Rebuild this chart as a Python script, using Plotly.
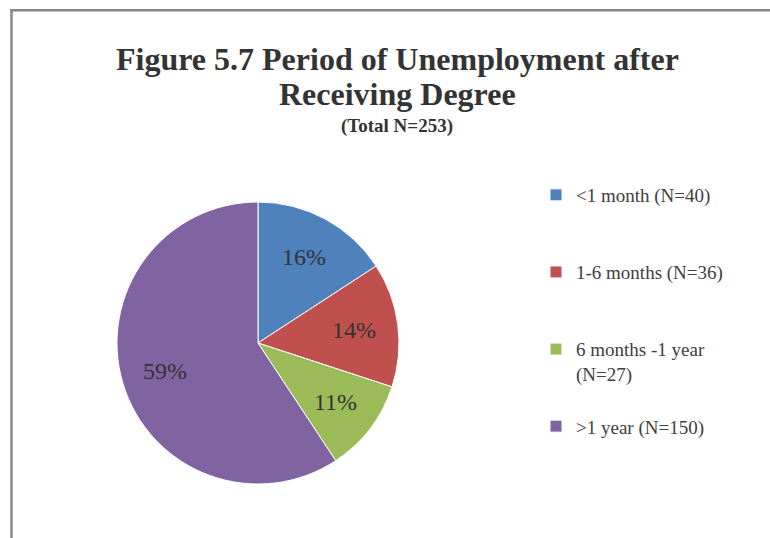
import math
import plotly.graph_objects as go

# ---- data ----
categories = ["<1 month (N=40)", "1-6 months (N=36)", "6 months -1 year<br>(N=27)", ">1 year (N=150)"]
counts = [40, 36, 27, 150]
colors = ["#4F81BD", "#C0504D", "#9BBB59", "#8064A2"]
title_line1 = "Figure 5.7 Period of Unemployment after"
title_line2 = "Receiving Degree"
subtitle = "(Total N=253)"

W, H = 770, 538
FONT = "Liberation Serif, Times New Roman, serif"

# pie geometry (pixels)
cx, cy, R = 258, 343, 141

def px_x(x):
    return x / W

def px_y(y):
    return 1 - y / H

# legend labels padded so each entry takes three lines
legend_labels = []
for c in categories:
    n = c.count("<br>") + 1
    legend_labels.append(c + "<br> " * (3 - n))

fig = go.Figure()
fig.add_trace(go.Pie(
    labels=legend_labels,
    values=counts,
    sort=False,
    direction="clockwise",
    rotation=0,
    marker=dict(colors=colors, line=dict(color="white", width=1)),
    textinfo="none",
    hoverinfo="skip",
    domain=dict(x=[px_x(cx - R), px_x(cx + R)], y=[px_y(cy + R), px_y(cy - R)]),
))

annotations = []
# percentage labels placed along each slice's mid angle
total = sum(counts)
cum = 0
for v in counts:
    mid = (cum + v / 2) / total
    cum += v
    ang = mid * 2 * math.pi
    r = 0.69 * R
    lx = cx + r * math.sin(ang)
    ly = cy - r * math.cos(ang)
    annotations.append(dict(
        x=px_x(lx), y=px_y(ly), xref="paper", yref="paper",
        text=f"{round(100 * v / total)}%", showarrow=False,
        xanchor="center", yanchor="middle",
        font=dict(family=FONT, size=24, color="#333333"),
    ))

# title lines
annotations.append(dict(x=px_x(397), y=px_y(59.5), xref="paper", yref="paper",
                        text=f"<b>{title_line1}</b>", showarrow=False,
                        xanchor="center", yanchor="middle",
                        font=dict(family=FONT, size=32, color="#333333")))
annotations.append(dict(x=px_x(397), y=px_y(94.5), xref="paper", yref="paper",
                        text=f"<b>{title_line2}</b>", showarrow=False,
                        xanchor="center", yanchor="middle",
                        font=dict(family=FONT, size=32, color="#333333")))
annotations.append(dict(x=px_x(397), y=px_y(126.5), xref="paper", yref="paper",
                        text=f"<b>{subtitle}</b>", showarrow=False,
                        xanchor="center", yanchor="middle",
                        font=dict(family=FONT, size=19, color="#333333")))

shapes = [
    dict(type="line", xref="paper", yref="paper",
         x0=px_x(11.5), x1=px_x(11.5), y0=px_y(9), y1=px_y(540),
         line=dict(color="#888888", width=2.5)),
    dict(type="line", xref="paper", yref="paper",
         x0=px_x(10.3), x1=px_x(772), y0=px_y(10.3), y1=px_y(10.3),
         line=dict(color="#888888", width=2.5)),
]

fig.update_layout(
    width=W, height=H,
    margin=dict(l=0, r=0, t=0, b=0),
    paper_bgcolor="white",
    plot_bgcolor="white",
    showlegend=True,
    legend=dict(
        x=px_x(536), y=px_y(176), xanchor="left", yanchor="top",
        valign="top",
        font=dict(family=FONT, size=19, color="#404040"),
        bgcolor="rgba(0,0,0,0)",
        traceorder="normal",
    ),
    annotations=annotations,
    shapes=shapes,
)

fig.write_html("out.html")
